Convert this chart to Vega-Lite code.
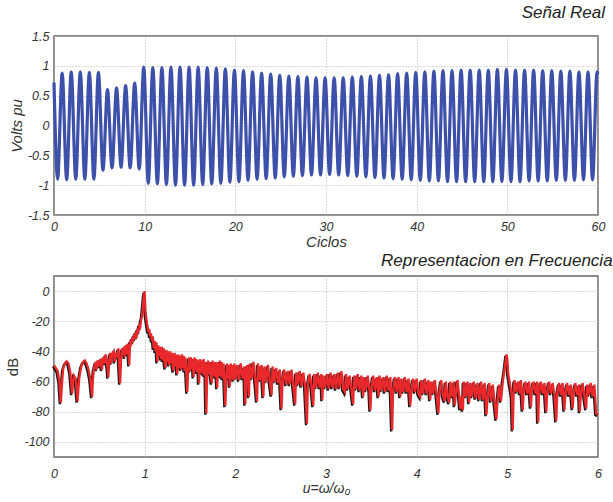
{
 "$schema": "https://vega.github.io/schema/vega-lite/v6.json",
 "padding": {"left": 5, "top": 3, "right": 2, "bottom": 2},
 "spacing": 0,
 "config": {
  "view": {"stroke": "#666666", "strokeWidth": 1.5},
  "axis": {"domain": false, "ticks": false, "grid": true, "gridColor": "#b5b5b5", "gridDash": [1, 2], "gridWidth": 1,
   "labelFont": "Liberation Sans", "labelFontStyle": "italic", "labelFontSize": 12.5, "labelColor": "#333333", "labelPadding": 5, "labelFlush": false,
   "titleFont": "Liberation Sans", "titleFontStyle": "italic", "titleFontWeight": "normal", "titleFontSize": 15, "titleColor": "#333333", "titlePadding": 3},
  "title": {"font": "Liberation Sans", "fontStyle": "italic", "fontWeight": "normal", "fontSize": 17, "color": "#222222", "anchor": "end", "offset": 8}
 },
 "vconcat": [
  {
   "width": 544, "height": 179,
   "title": {"text": "Señal Real"},
   "data": {"values": [
    {"t":0,"v":0.72},
    {"t":0.4,"v":-0.90},{"t":0.9,"v":0.88},
    {"t":1.4,"v":-0.91},{"t":1.9,"v":0.90},
    {"t":2.4,"v":-0.90},{"t":2.9,"v":0.90},
    {"t":3.4,"v":-0.90},{"t":3.9,"v":0.89},
    {"t":4.4,"v":-0.90},{"t":4.9,"v":0.89},
    {"t":5.4,"v":-0.75},{"t":5.9,"v":0.60},
    {"t":6.4,"v":-0.71},{"t":6.9,"v":0.63},
    {"t":7.4,"v":-0.70},{"t":7.9,"v":0.67},
    {"t":8.4,"v":-0.71},{"t":8.9,"v":0.71},
    {"t":9.4,"v":-0.73},{"t":9.9,"v":0.98},
    {"t":10.4,"v":-0.97},{"t":10.9,"v":0.97},
    {"t":11.4,"v":-0.98},{"t":11.9,"v":0.97},
    {"t":12.4,"v":-0.99},{"t":12.9,"v":0.98},
    {"t":13.4,"v":-1.00},{"t":13.9,"v":0.98},
    {"t":14.4,"v":-1.00},{"t":14.9,"v":0.98},
    {"t":15.4,"v":-1.00},{"t":15.9,"v":0.98},
    {"t":16.4,"v":-0.99},{"t":16.9,"v":0.97},
    {"t":17.4,"v":-0.98},{"t":17.9,"v":0.96},
    {"t":18.4,"v":-0.97},{"t":18.9,"v":0.95},
    {"t":19.4,"v":-0.95},{"t":19.9,"v":0.93},
    {"t":20.4,"v":-0.94},{"t":20.9,"v":0.92},
    {"t":21.4,"v":-0.92},{"t":21.9,"v":0.90},
    {"t":22.4,"v":-0.90},{"t":22.9,"v":0.88},
    {"t":23.4,"v":-0.89},{"t":23.9,"v":0.86},
    {"t":24.4,"v":-0.88},{"t":24.9,"v":0.84},
    {"t":25.4,"v":-0.86},{"t":25.9,"v":0.83},
    {"t":26.4,"v":-0.85},{"t":26.9,"v":0.82},
    {"t":27.4,"v":-0.84},{"t":27.9,"v":0.81},
    {"t":28.4,"v":-0.83},{"t":28.9,"v":0.80},
    {"t":29.4,"v":-0.83},{"t":29.9,"v":0.80},
    {"t":30.4,"v":-0.82},{"t":30.9,"v":0.80},
    {"t":31.4,"v":-0.83},{"t":31.9,"v":0.80},
    {"t":32.4,"v":-0.84},{"t":32.9,"v":0.81},
    {"t":33.4,"v":-0.85},{"t":33.9,"v":0.82},
    {"t":34.4,"v":-0.86},{"t":34.9,"v":0.83},
    {"t":35.4,"v":-0.87},{"t":35.9,"v":0.84},
    {"t":36.4,"v":-0.88},{"t":36.9,"v":0.85},
    {"t":37.4,"v":-0.89},{"t":37.9,"v":0.87},
    {"t":38.4,"v":-0.90},{"t":38.9,"v":0.88},
    {"t":39.4,"v":-0.91},{"t":39.9,"v":0.89},
    {"t":40.4,"v":-0.92},{"t":40.9,"v":0.90},
    {"t":41.4,"v":-0.93},{"t":41.9,"v":0.91},
    {"t":42.4,"v":-0.93},{"t":42.9,"v":0.92},
    {"t":43.4,"v":-0.94},{"t":43.9,"v":0.92},
    {"t":44.4,"v":-0.94},{"t":44.9,"v":0.93},
    {"t":45.4,"v":-0.94},{"t":45.9,"v":0.93},
    {"t":46.4,"v":-0.94},{"t":46.9,"v":0.93},
    {"t":47.4,"v":-0.94},{"t":47.9,"v":0.93},
    {"t":48.4,"v":-0.94},{"t":48.9,"v":0.94},
    {"t":49.4,"v":-0.94},{"t":49.9,"v":0.94},
    {"t":50.4,"v":-0.94},{"t":50.9,"v":0.93},
    {"t":51.4,"v":-0.94},{"t":51.9,"v":0.93},
    {"t":52.4,"v":-0.93},{"t":52.9,"v":0.93},
    {"t":53.4,"v":-0.93},{"t":53.9,"v":0.92},
    {"t":54.4,"v":-0.93},{"t":54.9,"v":0.92},
    {"t":55.4,"v":-0.92},{"t":55.9,"v":0.91},
    {"t":56.4,"v":-0.92},{"t":56.9,"v":0.91},
    {"t":57.4,"v":-0.92},{"t":57.9,"v":0.90},
    {"t":58.4,"v":-0.91},{"t":58.9,"v":0.90},
    {"t":59.4,"v":-0.91},{"t":59.9,"v":0.90},
    {"t":60,"v":0.86}
   ]},
   "mark": {"type": "line", "interpolate": "monotone", "color": "#3d50aa", "strokeWidth": 3.2},
   "encoding": {
    "x": {"field": "t", "type": "quantitative", "scale": {"domain": [0, 60], "nice": false},
     "axis": {"values": [0, 10, 20, 30, 40, 50, 60], "title": "Ciclos", "titlePadding": 2, "labelExpr": "'' + datum.value"}},
    "y": {"field": "v", "type": "quantitative", "scale": {"domain": [-1.5, 1.5], "nice": false},
     "axis": {"values": [-1.5, -1, -0.5, 0, 0.5, 1, 1.5], "title": "Volts pu", "labelExpr": "'' + datum.value"}}
   }
  },
  {
   "width": 544, "height": 181,
   "title": {"text": "Representacion en Frecuencia", "dx": 10, "offset": 6},
   "data": {"values": [
    {"u":0,"db":-49},{"u":0.02,"db":-51},{"u":0.04,"db":-53},{"u":0.06,"db":-60},{"u":0.075,"db":-74},{"u":0.09,"db":-60},{"u":0.1,"db":-52},{"u":0.12,"db":-48},{"u":0.14,"db":-46.5},{"u":0.16,"db":-48},{"u":0.18,"db":-54},{"u":0.2,"db":-68},{"u":0.21,"db":-60},{"u":0.22,"db":-56},{"u":0.24,"db":-58},{"u":0.26,"db":-73},{"u":0.27,"db":-64},{"u":0.28,"db":-57},{"u":0.3,"db":-50},{"u":0.32,"db":-47},{"u":0.34,"db":-46},{"u":0.36,"db":-48},{"u":0.38,"db":-52},{"u":0.4,"db":-58},{"u":0.42,"db":-70},{"u":0.43,"db":-58},{"u":0.44,"db":-52},{"u":0.46,"db":-47},{"u":0.47,"db":-52},{"u":0.48,"db":-46},{"u":0.5,"db":-50},{"u":0.51,"db":-45},{"u":0.53,"db":-52},{"u":0.54,"db":-44},{"u":0.56,"db":-48},{"u":0.57,"db":-42},{"u":0.59,"db":-50},{"u":0.6,"db":-57},{"u":0.61,"db":-46},{"u":0.62,"db":-41},{"u":0.63,"db":-48},{"u":0.64,"db":-42},{"u":0.66,"db":-40},{"u":0.67,"db":-47},{"u":0.68,"db":-41},{"u":0.7,"db":-44},{"u":0.71,"db":-38},{"u":0.72,"db":-50},{"u":0.73,"db":-61},{"u":0.74,"db":-45},{"u":0.75,"db":-38},{"u":0.76,"db":-42},{"u":0.77,"db":-37},{"u":0.78,"db":-44},{"u":0.79,"db":-36},{"u":0.8,"db":-42},{"u":0.81,"db":-35},{"u":0.82,"db":-38},{"u":0.83,"db":-49},{"u":0.84,"db":-33},{"u":0.85,"db":-36},{"u":0.86,"db":-31},{"u":0.87,"db":-34},{"u":0.88,"db":-29},{"u":0.89,"db":-32},{"u":0.9,"db":-27},{"u":0.91,"db":-31},{"u":0.92,"db":-25},{"u":0.93,"db":-28},{"u":0.94,"db":-22},{"u":0.95,"db":-25},{"u":0.96,"db":-19},{"u":0.97,"db":-17},{"u":0.98,"db":-11},{"u":0.99,"db":-4},{"u":1.0,"db":0},{"u":1.005,"db":-8},{"u":1.01,"db":-14},{"u":1.02,"db":-19},{"u":1.03,"db":-23},
    {"u":1.04,"db":-27},{"u":1.05,"db":-25},{"u":1.06,"db":-30},{"u":1.07,"db":-28},{"u":1.08,"db":-33},{"u":1.09,"db":-30},{"u":1.1,"db":-38},{"u":1.11,"db":-33},{"u":1.12,"db":-40},{"u":1.13,"db":-34},{"u":1.14,"db":-47},{"u":1.15,"db":-36},{"u":1.16,"db":-43},{"u":1.17,"db":-37},{"u":1.18,"db":-45},{"u":1.19,"db":-37},{"u":1.2,"db":-46},{"u":1.21,"db":-38},{"u":1.22,"db":-47},{"u":1.23,"db":-51},{"u":1.24,"db":-39},{"u":1.25,"db":-47},{"u":1.26,"db":-40},{"u":1.27,"db":-49},{"u":1.28,"db":-40},{"u":1.29,"db":-48},{"u":1.3,"db":-41},{"u":1.31,"db":-50},{"u":1.32,"db":-53},{"u":1.33,"db":-41},{"u":1.34,"db":-50},{"u":1.35,"db":-42},{"u":1.36,"db":-55},{"u":1.37,"db":-42},{"u":1.38,"db":-51},{"u":1.39,"db":-43},{"u":1.4,"db":-52},{"u":1.41,"db":-42},{"u":1.42,"db":-51},{"u":1.43,"db":-43},{"u":1.44,"db":-53},{"u":1.45,"db":-44},{"u":1.46,"db":-55},{"u":1.47,"db":-67},{"u":1.48,"db":-52},{"u":1.49,"db":-44},{"u":1.5,"db":-53},
    {"u":1.51,"db":-44},{"u":1.52,"db":-52},{"u":1.53,"db":-45},{"u":1.54,"db":-57},{"u":1.55,"db":-44},{"u":1.56,"db":-53},{"u":1.57,"db":-45},{"u":1.58,"db":-54},{"u":1.59,"db":-46},{"u":1.6,"db":-61},{"u":1.61,"db":-45},{"u":1.62,"db":-54},{"u":1.63,"db":-46},{"u":1.64,"db":-55},{"u":1.65,"db":-45},{"u":1.66,"db":-56},{"u":1.67,"db":-47},{"u":1.68,"db":-81},{"u":1.69,"db":-55},{"u":1.7,"db":-46},{"u":1.71,"db":-55},{"u":1.72,"db":-47},{"u":1.73,"db":-56},{"u":1.74,"db":-61},{"u":1.75,"db":-46},{"u":1.76,"db":-56},{"u":1.77,"db":-47},{"u":1.78,"db":-57},{"u":1.79,"db":-47},{"u":1.8,"db":-64},{"u":1.81,"db":-48},{"u":1.82,"db":-56},{"u":1.83,"db":-46},{"u":1.84,"db":-57},{"u":1.85,"db":-47},{"u":1.86,"db":-58},{"u":1.87,"db":-48},{"u":1.88,"db":-59},{"u":1.89,"db":-76},{"u":1.9,"db":-57},{"u":1.91,"db":-48},{"u":1.92,"db":-58},{"u":1.93,"db":-49},{"u":1.94,"db":-63},{"u":1.95,"db":-48},{"u":1.96,"db":-58},{"u":1.97,"db":-49},{"u":1.98,"db":-59},{"u":1.99,"db":-48},{"u":2.0,"db":-58},
    {"u":2.02,"db":-49},{"u":2.04,"db":-59},{"u":2.06,"db":-48},{"u":2.08,"db":-58},{"u":2.1,"db":-50},{"u":2.11,"db":-75},{"u":2.12,"db":-58},{"u":2.13,"db":-49},{"u":2.15,"db":-70},{"u":2.16,"db":-48},{"u":2.18,"db":-58},{"u":2.2,"db":-47},{"u":2.22,"db":-59},{"u":2.24,"db":-73},{"u":2.25,"db":-48},{"u":2.27,"db":-59},{"u":2.29,"db":-49},{"u":2.31,"db":-70},{"u":2.32,"db":-50},{"u":2.34,"db":-60},{"u":2.36,"db":-49},{"u":2.38,"db":-60},{"u":2.4,"db":-69},{"u":2.41,"db":-50},{"u":2.43,"db":-60},{"u":2.45,"db":-51},{"u":2.47,"db":-61},{"u":2.49,"db":-52},{"u":2.51,"db":-78},{"u":2.52,"db":-61},{"u":2.54,"db":-52},{"u":2.56,"db":-62},{"u":2.58,"db":-53},{"u":2.6,"db":-62},{"u":2.62,"db":-52},{"u":2.64,"db":-63},{"u":2.66,"db":-75},{"u":2.67,"db":-54},{"u":2.69,"db":-62},{"u":2.71,"db":-53},{"u":2.73,"db":-63},{"u":2.75,"db":-54},{"u":2.77,"db":-63},{"u":2.79,"db":-88},{"u":2.8,"db":-62},{"u":2.82,"db":-55},{"u":2.84,"db":-63},{"u":2.86,"db":-76},{"u":2.87,"db":-55},{"u":2.89,"db":-64},{"u":2.91,"db":-54},{"u":2.93,"db":-64},{"u":2.95,"db":-55},{"u":2.96,"db":-72},{"u":2.97,"db":-56},{"u":2.99,"db":-64},
    {"u":3.01,"db":-55},{"u":3.03,"db":-65},{"u":3.05,"db":-54},{"u":3.07,"db":-64},{"u":3.09,"db":-55},{"u":3.11,"db":-65},{"u":3.13,"db":-54},{"u":3.15,"db":-64},{"u":3.17,"db":-53},{"u":3.19,"db":-65},{"u":3.21,"db":-67},{"u":3.22,"db":-55},{"u":3.24,"db":-65},{"u":3.26,"db":-56},{"u":3.28,"db":-65},{"u":3.3,"db":-75},{"u":3.31,"db":-56},{"u":3.33,"db":-65},{"u":3.35,"db":-55},{"u":3.37,"db":-66},{"u":3.39,"db":-56},{"u":3.41,"db":-70},{"u":3.42,"db":-57},{"u":3.44,"db":-66},{"u":3.46,"db":-56},{"u":3.48,"db":-66},{"u":3.49,"db":-79},{"u":3.5,"db":-65},{"u":3.52,"db":-56},{"u":3.54,"db":-66},{"u":3.56,"db":-57},{"u":3.58,"db":-70},{"u":3.59,"db":-56},{"u":3.61,"db":-66},{"u":3.63,"db":-57},{"u":3.65,"db":-67},{"u":3.67,"db":-56},{"u":3.69,"db":-66},{"u":3.71,"db":-57},{"u":3.73,"db":-92},{"u":3.74,"db":-66},{"u":3.76,"db":-57},{"u":3.78,"db":-67},{"u":3.8,"db":-57},{"u":3.82,"db":-70},{"u":3.83,"db":-58},{"u":3.85,"db":-67},{"u":3.87,"db":-57},{"u":3.89,"db":-67},{"u":3.91,"db":-58},{"u":3.93,"db":-76},{"u":3.94,"db":-67},{"u":3.96,"db":-58},{"u":3.98,"db":-67},
    {"u":4.0,"db":-58},{"u":4.02,"db":-68},{"u":4.04,"db":-70},{"u":4.05,"db":-59},{"u":4.07,"db":-68},{"u":4.09,"db":-58},{"u":4.11,"db":-68},{"u":4.13,"db":-59},{"u":4.15,"db":-72},{"u":4.16,"db":-60},{"u":4.18,"db":-68},{"u":4.2,"db":-59},{"u":4.22,"db":-69},{"u":4.24,"db":-81},{"u":4.25,"db":-68},{"u":4.27,"db":-59},{"u":4.29,"db":-69},{"u":4.31,"db":-73},{"u":4.32,"db":-60},{"u":4.34,"db":-70},{"u":4.36,"db":-74},{"u":4.37,"db":-60},{"u":4.39,"db":-70},{"u":4.41,"db":-60},{"u":4.42,"db":-76},{"u":4.43,"db":-70},{"u":4.45,"db":-59},{"u":4.47,"db":-70},{"u":4.48,"db":-78},{"u":4.49,"db":-70},{"u":4.51,"db":-79},{"u":4.52,"db":-60},{"u":4.54,"db":-70},{"u":4.56,"db":-60},{"u":4.58,"db":-74},{"u":4.59,"db":-61},{"u":4.61,"db":-70},{"u":4.63,"db":-60},{"u":4.65,"db":-71},{"u":4.67,"db":-61},{"u":4.69,"db":-72},{"u":4.71,"db":-60},{"u":4.73,"db":-72},{"u":4.75,"db":-61},{"u":4.77,"db":-82},{"u":4.78,"db":-72},{"u":4.8,"db":-61},{"u":4.82,"db":-73},{"u":4.84,"db":-62},{"u":4.86,"db":-74},{"u":4.88,"db":-85},{"u":4.89,"db":-74},{"u":4.91,"db":-62},{"u":4.93,"db":-73},{"u":4.95,"db":-60},{"u":4.97,"db":-52},{"u":4.99,"db":-42},{"u":5.0,"db":-45},{"u":5.01,"db":-55},{"u":5.03,"db":-62},{"u":5.05,"db":-70},{"u":5.06,"db":-92},{"u":5.07,"db":-66},{"u":5.08,"db":-59},
    {"u":5.1,"db":-67},{"u":5.12,"db":-60},{"u":5.14,"db":-68},{"u":5.15,"db":-59},{"u":5.17,"db":-79},{"u":5.18,"db":-67},{"u":5.2,"db":-60},{"u":5.22,"db":-68},{"u":5.24,"db":-60},{"u":5.26,"db":-77},{"u":5.27,"db":-66},{"u":5.29,"db":-60},{"u":5.31,"db":-68},{"u":5.33,"db":-60},{"u":5.34,"db":-87},{"u":5.35,"db":-67},{"u":5.37,"db":-60},{"u":5.39,"db":-68},{"u":5.41,"db":-61},{"u":5.43,"db":-80},{"u":5.44,"db":-67},{"u":5.46,"db":-60},{"u":5.48,"db":-68},{"u":5.5,"db":-61},{"u":5.52,"db":-69},{"u":5.54,"db":-86},{"u":5.55,"db":-68},{"u":5.57,"db":-61},{"u":5.59,"db":-69},{"u":5.61,"db":-61},{"u":5.63,"db":-79},{"u":5.64,"db":-68},{"u":5.66,"db":-61},{"u":5.68,"db":-69},{"u":5.7,"db":-62},{"u":5.72,"db":-78},{"u":5.73,"db":-69},{"u":5.75,"db":-61},{"u":5.77,"db":-69},{"u":5.79,"db":-62},{"u":5.8,"db":-80},{"u":5.81,"db":-69},{"u":5.83,"db":-61},{"u":5.85,"db":-70},{"u":5.87,"db":-78},{"u":5.88,"db":-62},{"u":5.9,"db":-69},{"u":5.92,"db":-61},{"u":5.94,"db":-70},{"u":5.96,"db":-62},{"u":5.98,"db":-81},{"u":6.0,"db":-82}
   ]},
   "encoding": {
    "x": {"field": "u", "type": "quantitative", "scale": {"domain": [0, 6], "nice": false},
     "axis": {"values": [0, 1, 2, 3, 4, 5, 6], "title": "u=ω/ω₀", "titleFontSize": 14, "labelPadding": 10, "titlePadding": 2}},
    "y": {"field": "db", "type": "quantitative", "scale": {"domain": [-110, 10], "nice": false},
     "axis": {"values": [-100, -80, -60, -40, -20, 0], "title": "dB", "titleFontStyle": "normal", "labelExpr": "'' + datum.value"}}
   },
   "layer": [
    {"mark": {"type": "line", "color": "#1a1a1a", "strokeWidth": 2.4, "xOffset": -1, "yOffset": 1.5}},
    {"mark": {"type": "line", "color": "#e8282b", "strokeWidth": 2.3}}
   ]
  }
 ]
}
